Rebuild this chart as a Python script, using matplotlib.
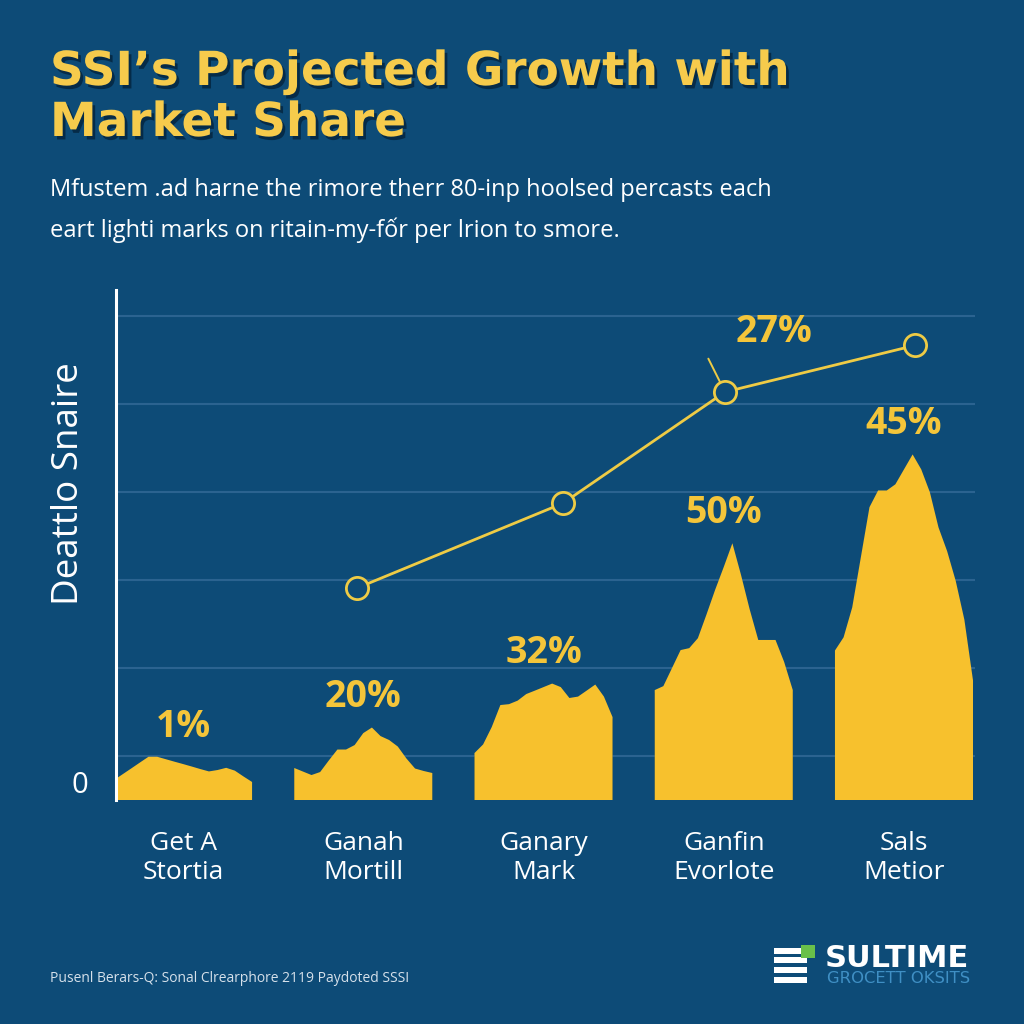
import numpy as np
import matplotlib
matplotlib.use("Agg")
import matplotlib.pyplot as plt
import matplotlib.patheffects as pe
from matplotlib.patches import Rectangle

# ---------------- data ----------------
title_lines = ["SSI\u2019s Projected Growth with", "Market Share"]
subtitle_lines = [
    "Mfustem .ad harne the rimore therr 80-inp hoolsed percasts each",
    "eart lighti marks on ritain-my-f\u1ed1r per lrion to smore.",
]
categories = ["Get A\nStortia", "Ganah\nMortill", "Ganary\nMark", "Ganfin\nEvorlote", "Sals\nMetior"]
bar_labels = ["1%", "20%", "32%", "50%", "45%"]

# mountain-shaped bar profiles (heights sampled evenly across each bar)
profile_1 = [2.27, 2.93, 3.59, 4.26, 4.92, 4.92, 4.64, 4.36, 4.09, 3.81, 3.52, 3.25, 3.41, 3.66, 3.34, 2.68, 2.05]
profile_2 = [3.64, 3.24, 2.84, 3.18, 4.49, 5.74, 5.74, 6.25, 7.61, 8.24, 7.27, 6.82, 6.08, 4.72, 3.58, 3.30, 3.07]
profile_3 = [5.34, 6.32, 8.30, 10.8, 10.9, 11.3, 12.05, 12.44, 12.84, 13.24, 12.84, 11.6, 11.76, 12.44, 13.13, 11.76, 9.43]
profile_4 = [12.5, 12.95, 15.0, 17.05, 17.27, 18.4, 21.1, 23.9, 26.5, 29.2, 25.6, 21.7, 18.2, 18.2, 18.2, 15.7, 12.5]
profile_5 = [17.0, 18.5, 21.9, 27.6, 33.3, 35.2, 35.2, 35.9, 37.6, 39.3, 37.6, 35.0, 31.0, 28.3, 24.9, 20.5, 13.6]
profiles = [profile_1, profile_2, profile_3, profile_4, profile_5]

line_x = [0.965, 2.108, 3.007, 4.061]
line_y = [24.1, 33.75, 46.4, 51.7]
line_label = "27%"

grid_levels = [5, 15, 25, 35, 45, 55]
y_ticks = [0]
y_tick_labels = ["0"]
ylabel = "Deattlo Snaire"
footer = "Pusenl Berars-Q: Sonal Clrearphore 2119 Paydoted SSSI"
logo_name = "SULTIME"
logo_sub = "GROCETT OKSITS"

# ---------------- style ----------------
BG = "#0d4b77"
BAR = "#f7c12d"
LINE = "#eecb45"
LABEL_Y = "#f4c53a"
TITLE_Y = "#f6cb4c"
GRID = "#2b6390"
FONT = ["Open Sans", "DejaVu Sans"]
BOLD_WIDE = ["DejaVu Sans"]

plt.rcParams["font.family"] = FONT

fig = plt.figure(figsize=(10.24, 10.24), dpi=100, facecolor=BG)
W = H = 1024.0

def fx(px):
    return px / W

def fy(py):
    return 1 - py / H

ax = fig.add_axes([fx(116), fy(800), fx(975) - fx(116), fy(290) - fy(800)])
ax.set_facecolor("none")
ax.set_xlim(-0.372, 4.394)
ax.set_ylim(0, 58)

# grid
ax.set_yticks(grid_levels, minor=True)
ax.grid(which="minor", axis="y", color=GRID, lw=1.5, zorder=0)
ax.tick_params(which="minor", length=0)

# spines
for s in ["top", "right", "bottom"]:
    ax.spines[s].set_visible(False)
ax.spines["left"].set_color("white")
ax.spines["left"].set_linewidth(2.2)

# mountain bars
width = 0.766
shadow = [pe.SimplePatchShadow(offset=(0, -2), shadow_rgbFace="#062c48", alpha=0.7), pe.Normal()]
for i, prof in enumerate(profiles):
    xs = i - width / 2 + np.linspace(0, width, len(prof))
    poly = ax.fill_between(xs, 0, prof, color=BAR, lw=0, zorder=2)
    poly.set_path_effects(shadow)
    ax.annotate(bar_labels[i], xy=(i, max(prof)), xytext=(0, 8), textcoords="offset points",
                ha="center", va="bottom", fontsize=27, fontweight="bold", color=LABEL_Y, zorder=5)

# line with circles
ax.plot(line_x, line_y, color=LINE, lw=2.0, zorder=3, marker="o", markersize=16,
        markerfacecolor=BG, markeredgecolor=LINE, markeredgewidth=2.0)
ax.annotate("", xy=(line_x[2], line_y[2]), xytext=(-12, 24), textcoords="offset points",
            arrowprops=dict(arrowstyle="-", color=LINE, lw=1.4, shrinkA=0, shrinkB=8), zorder=3)
ax.annotate(line_label, xy=(line_x[2], line_y[2]), xytext=(35, 43), textcoords="offset points",
            ha="center", va="center", fontsize=27, fontweight="bold", color=LABEL_Y, zorder=5)

# ticks
ax.set_xticks(range(len(categories)))
ax.set_xticklabels(categories, color="white", fontsize=19, linespacing=1.25)
ax.tick_params(axis="x", length=0, pad=22)
ax.set_yticks(y_ticks)
ax.set_yticklabels(y_tick_labels, color="white", fontsize=21, va="bottom")
ax.tick_params(axis="y", which="major", length=0, pad=20)

ax.set_ylabel(ylabel, color="white", fontsize=26.5)
ax.yaxis.set_label_coords(-0.034, 0.62)

# title
title_fx = [pe.SimplePatchShadow(offset=(2, -2.5), shadow_rgbFace="#04243d", alpha=0.8), pe.Normal()]
fig.text(fx(50), fy(85), title_lines[0], ha="left", va="baseline", fontsize=33.8, fontweight="bold",
         color=TITLE_Y, family=BOLD_WIDE, path_effects=title_fx)
fig.text(fx(50), fy(136), title_lines[1], ha="left", va="baseline", fontsize=33.8, fontweight="bold",
         color=TITLE_Y, family=BOLD_WIDE, path_effects=title_fx)

# subtitle
fig.text(fx(50), fy(190), subtitle_lines[0], ha="left", va="center", fontsize=17, color="white")
fig.text(fx(50), fy(230), subtitle_lines[1], ha="left", va="center", fontsize=17, color="white")

# footer
fig.text(fx(50), fy(978), footer, ha="left", va="center", fontsize=10, color="#d5e0ea")

# logo
for top in [948, 957, 967, 977]:
    fig.patches.append(Rectangle((fx(774), fy(top + 6)), fx(807) - fx(774), 6 / H,
                                 transform=fig.transFigure, color="white", lw=0))
fig.patches.append(Rectangle((fx(801), fy(958)), fx(815) - fx(801), 13 / H,
                             transform=fig.transFigure, color="#69c04a", lw=0))
fig.text(fx(825), fy(967), logo_name, ha="left", va="baseline", fontsize=22, fontweight="bold",
         color="white", family=BOLD_WIDE)
fig.text(fx(827), fy(983), logo_sub, ha="left", va="baseline", fontsize=11.8, color="#3f8fc4",
         family=BOLD_WIDE)

fig.savefig("out.png", dpi=100, facecolor=BG)
